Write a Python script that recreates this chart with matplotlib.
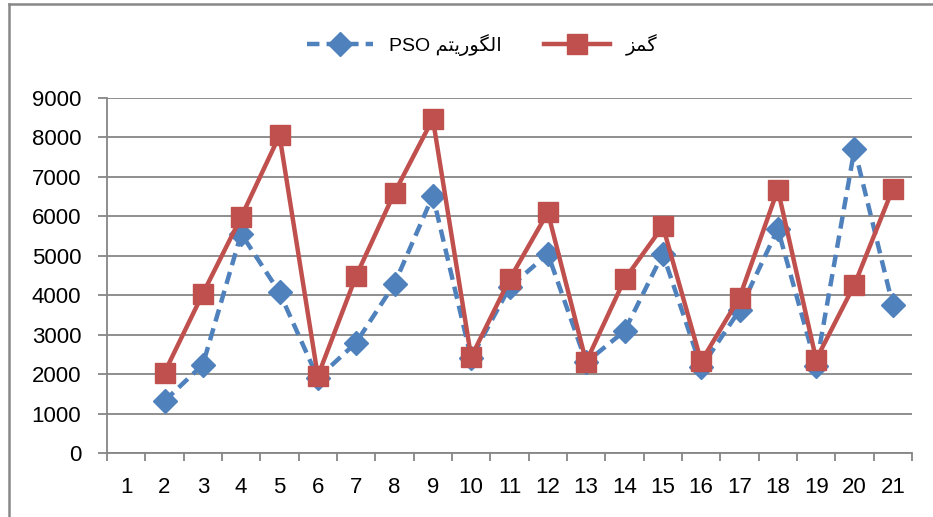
import matplotlib.pyplot as plt
from matplotlib.lines import Line2D

plt.rcParams['font.family'] = ['Liberation Sans', 'DejaVu Sans']

# data
categories = list(range(1, 22))
x_vals = list(range(2, 22))
pso = [1320, 2240, 5560, 4070, 1900, 2800, 4290, 6520, 2400, 4200,
       5050, 2300, 3090, 5050, 2170, 3620, 5680, 2200, 7710, 3740]
gams = [2040, 4040, 5980, 8050, 1950, 4490, 6600, 8470, 2430, 4400,
        6100, 2310, 4400, 5750, 2320, 3940, 6680, 2370, 4270, 6700]

# Persian labels, pre-shaped (presentation forms, visual order)
label_pso = 'PSO ' + '\uFEE2\uFE98\uFBFE\uFEAD\uFEEE\uFB95\uFEDF\uFE8D'  # الگوریتم PSO
label_gams = '\uFEB0\uFEE4\uFB94'  # گمز

blue = '#4F81BD'
red = '#C0504D'
grid_c = '#868686'

fig = plt.figure(figsize=(9.33, 5.17), dpi=100)
ax = fig.add_axes([107/933, 1 - 453/517, (912 - 107)/933, (453 - 98)/517])

ax.plot(x_vals, pso, color=blue, lw=3.2, ls=(0, (2.8, 1.6)), marker='D',
        ms=12, mec=blue, mfc=blue, label=label_pso, zorder=3)
ax.plot(x_vals, gams, color=red, lw=3.2, ls='-', marker='s',
        ms=15, mec=red, mfc=red, label=label_gams, zorder=4)

ax.set_xlim(0.5, 21.5)
ax.set_ylim(0, 9000)
ax.set_yticks(range(0, 9001, 1000))
ax.set_xticks(categories)
ax.set_xticklabels([str(c) for c in categories])
ax.set_xticks([c + 0.5 for c in range(0, 22)], minor=True)
ax.tick_params(axis='x', which='major', length=0, pad=17, labelsize=16)
ax.tick_params(axis='x', which='minor', length=6, width=1.3, color=grid_c, direction='out')
ax.tick_params(axis='y', length=6.5, width=1.3, color=grid_c, labelsize=16, pad=12)

ax.grid(axis='y', color=grid_c, lw=1.3)
ax.set_axisbelow(True)
for s in ['top', 'right']:
    ax.spines[s].set_visible(False)
for s in ['left', 'bottom']:
    ax.spines[s].set_color(grid_c)
    ax.spines[s].set_linewidth(1.3)

fig.legend(loc='center', bbox_to_anchor=(0.517, 1 - 45/517), ncol=2, frameon=False,
           fontsize=14, handlelength=3.4, columnspacing=2.2, handletextpad=0.8)

# outer frame (top and left edges visible in the reference)
fig.add_artist(Line2D([8.5/933, 1], [1 - 3.5/517] * 2, transform=fig.transFigure,
                      color='#888888', lw=1.8))
fig.add_artist(Line2D([8.5/933] * 2, [0, 1 - 3.5/517], transform=fig.transFigure,
                      color='#888888', lw=1.8))

fig.savefig('out.png', dpi=100)
